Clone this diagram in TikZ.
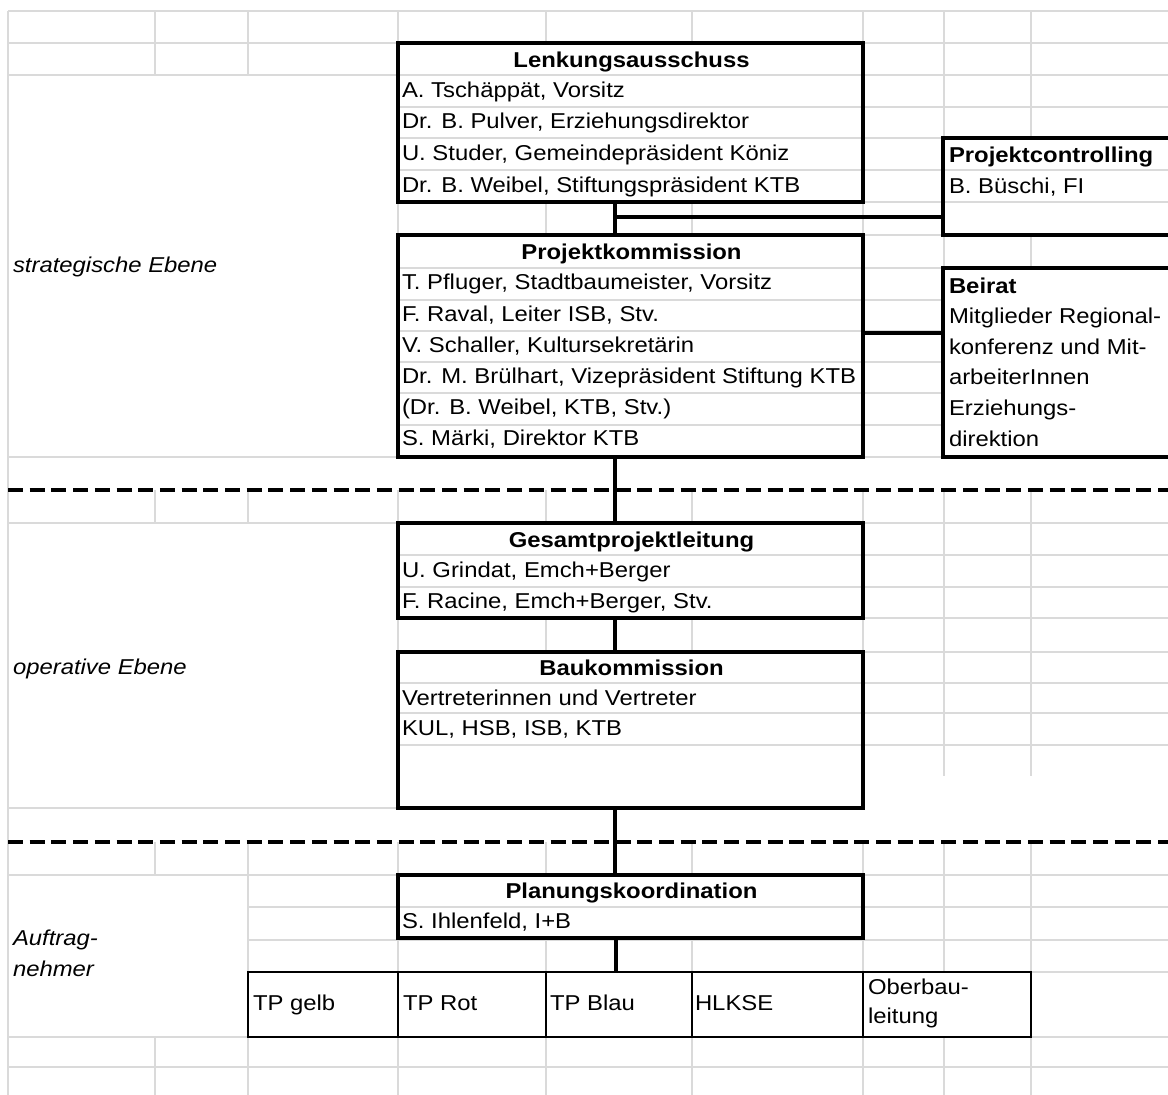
\documentclass[tikz,border=0pt]{standalone}
\usepackage{fontspec}
\setmainfont[FakeStretch=1.11]{Liberation Sans}
\definecolor{gridgray}{RGB}{218,218,218}
\tikzset{
  gline/.style={draw=gridgray, line width=1.6pt},
  obox/.style={draw=black, line width=3.3pt, rectangle, inner sep=0pt, outer sep=0pt},
  tpbox/.style={draw=black, line width=1.8pt, rectangle, inner sep=0pt, outer sep=0pt},
  conn/.style={draw=black, line width=4.5pt},
  dashsep/.style={draw=black, line width=3.3pt, dash pattern=on 15pt off 6.7pt},
  txt/.style={inner sep=0pt, outer sep=0pt, font=\fontsize{21.5}{25}\selectfont, anchor=base west},
  ttl/.style={inner sep=0pt, outer sep=0pt, font=\fontsize{21.5}{25}\selectfont\bfseries, anchor=base},
  btxt/.style={txt, font=\fontsize{21.5}{25}\selectfont\bfseries},
  itxt/.style={txt, font=\fontsize{21.5}{25}\selectfont\itshape}
}
\begin{document}
\begin{tikzpicture}[x=1pt,y=-1pt]
\useasboundingbox[fill=white] (0,0) rectangle (1168,1095);
\clip (0,0) rectangle (1168,1095);

% ---------- spreadsheet grid ----------
% horizontal
\draw[gline] (8,11) -- (1168,11);
\draw[gline] (8,43) -- (398,43) (863,43) -- (1168,43);
\draw[gline] (8,75) -- (1168,75);
\foreach \y in {107,138,170,202,235,268} {\draw[gline] (398,\y) -- (1168,\y);}
\foreach \y in {300,331,362,393,425} {\draw[gline] (398,\y) -- (943,\y);}
\draw[gline] (8,457) -- (1168,457);
\draw[gline] (8,523) -- (1168,523);
\foreach \y in {555,587,618,652,683,713,745} {\draw[gline] (398,\y) -- (1168,\y);}
\draw[gline] (8,808) -- (863,808);
\draw[gline] (8,875) -- (1168,875);
\foreach \y in {907,940,972} {\draw[gline] (248,\y) -- (1168,\y);}
\draw[gline] (8,1037) -- (1168,1037);
\draw[gline] (8,1067) -- (1168,1067);
% vertical
\draw[gline] (8,11) -- (8,1095);
\draw[gline] (155,11) -- (155,75) (155,490) -- (155,523) (155,842) -- (155,875) (155,1037) -- (155,1095);
\draw[gline] (248,11) -- (248,75) (248,490) -- (248,523) (248,842) -- (248,1095);
\draw[gline] (398,11) -- (398,457) (398,490) -- (398,808) (398,842) -- (398,1095);
\foreach \x in {546,692} {
  \draw[gline] (\x,11) -- (\x,43) (\x,202) -- (\x,235) (\x,490) -- (\x,523) (\x,618) -- (\x,652)
    (\x,842) -- (\x,875) (\x,938) -- (\x,972) (\x,1037) -- (\x,1095);
}
\draw[gline] (863,11) -- (863,457) (863,490) -- (863,808) (863,842) -- (863,1095);
\draw[gline] (944,11) -- (944,138) (944,235) -- (944,268) (944,490) -- (944,776) (944,842) -- (944,972) (944,1037) -- (944,1095);
\draw[gline] (1031,11) -- (1031,138) (1031,235) -- (1031,268) (1031,490) -- (1031,776) (1031,842) -- (1031,1095);

% ---------- level separators ----------
\coordinate (d1a) at (8,490);
\coordinate (d1b) at (1168,490);
\coordinate (d2a) at (8,842);
\coordinate (d2b) at (1168,842);
\draw[dashsep] (d1a) -- (d1b);
\draw[dashsep] (d2a) -- (d2b);

% ---------- boxes ----------
\node[obox, minimum width=465pt, minimum height=159pt] (lenk) at (630.5,122.5) {};
\node[obox, minimum width=240pt, minimum height=97pt] (pc) at (1063,186.5) {};
\node[obox, minimum width=465pt, minimum height=222pt] (proj) at (630.5,346) {};
\node[obox, minimum width=240pt, minimum height=189pt] (beirat) at (1063,362.5) {};
\node[obox, minimum width=465pt, minimum height=95pt] (gpl) at (630.5,570.5) {};
\node[obox, minimum width=465pt, minimum height=156pt] (bauk) at (630.5,730) {};
\node[obox, minimum width=465pt, minimum height=63pt] (plan) at (630.5,906.5) {};
\node[tpbox, minimum width=150pt, minimum height=65pt] (gelb) at (323,1004.5) {};
\node[tpbox, minimum width=148pt, minimum height=65pt] (rot) at (472,1004.5) {};
\node[tpbox, minimum width=146pt, minimum height=65pt] (blau) at (619,1004.5) {};
\node[tpbox, minimum width=171pt, minimum height=65pt] (hlkse) at (777.5,1004.5) {};
\node[tpbox, minimum width=168pt, minimum height=65pt] (ober) at (947,1004.5) {};

% ---------- connectors ----------
\coordinate (sp) at (615,0);
\coordinate (sp2) at (616,0);
\coordinate (j1) at (615,217);
\coordinate (j2) at (863,333);
\draw[conn] (lenk.south -| sp) -- (proj.north -| sp);
\draw[conn] (j1) -- (j1 -| pc.west);
\draw[conn] (j2 -| proj.east) -- (j2 -| beirat.west);
\draw[conn] (proj.south -| sp) -- (gpl.north -| sp);
\draw[conn] (gpl.south -| sp) -- (bauk.north -| sp);
\draw[conn] (bauk.south -| sp) -- (plan.north -| sp);
\draw[conn] (plan.south -| sp2) -- (blau.north -| sp2);

% ---------- texts ----------
\node[ttl] (t-lenk) at (631.5,67) {Lenkungsausschuss};
\node[txt] (t-l1) at (402,97) {A. Tschäppät, Vorsitz};
\node[txt] (t-l2) at (402,128) {Dr. B. Pulver, Erziehungsdirektor};
\node[txt] (t-l3) at (402,160) {U. Studer, Gemeindepräsident Köniz};
\node[txt] (t-l4) at (402,192) {Dr. B. Weibel, Stiftungspräsident KTB};

\node[ttl] (t-proj) at (631.5,259) {Projektkommission};
\node[txt] (t-p1) at (402,289) {T. Pfluger, Stadtbaumeister, Vorsitz};
\node[txt] (t-p2) at (402,321) {F. Raval, Leiter ISB, Stv.};
\node[txt] (t-p3) at (402,352) {V. Schaller, Kultursekretärin};
\node[txt] (t-p4) at (402,383) {Dr. M. Brülhart, Vizepräsident Stiftung KTB};
\node[txt] (t-p5) at (402,414) {(Dr. B. Weibel, KTB, Stv.)};
\node[txt] (t-p6) at (402,445) {S. Märki, Direktor KTB};

\node[btxt] (t-pc) at (949,162) {Projektcontrolling};
\node[txt] (t-pc1) at (949,193) {B. Büschi, FI};

\node[btxt] (t-b) at (949,293) {Beirat};
\node[txt] (t-b1) at (949,323.6) {Mitglieder Regional-};
\node[txt] (t-b2) at (949,354.2) {konferenz und Mit-};
\node[txt] (t-b3) at (949,384.8) {arbeiterInnen};
\node[txt] (t-b4) at (949,415.4) {Erziehungs-};
\node[txt] (t-b5) at (949,446) {direktion};

\node[ttl] (t-gpl) at (631.5,547) {Gesamtprojektleitung};
\node[txt] (t-g1) at (402,577) {U. Grindat, Emch+Berger};
\node[txt] (t-g2) at (402,608) {F. Racine, Emch+Berger, Stv.};

\node[ttl] (t-bauk) at (631.5,675) {Baukommission};
\node[txt] (t-k1) at (402,705) {Vertreterinnen und Vertreter};
\node[txt] (t-k2) at (402,735) {KUL, HSB, ISB, KTB};

\node[ttl] (t-plan) at (631.5,898) {Planungskoordination};
\node[txt] (t-pl1) at (402,928) {S. Ihlenfeld, I+B};

\node[txt] (t-gelb) at (253,1010) {TP gelb};
\node[txt] (t-rot) at (403,1010) {TP Rot};
\node[txt] (t-blau) at (550,1010) {TP Blau};
\node[txt] (t-hlkse) at (695,1010) {HLKSE};
\node[txt] (t-ober1) at (868,994) {Oberbau-};
\node[txt] (t-ober2) at (868,1023) {leitung};

\node[itxt] (t-strat) at (13,272) {strategische Ebene};
\node[itxt] (t-oper) at (13,674) {operative Ebene};
\node[itxt] (t-auf1) at (13,945) {Auftrag-};
\node[itxt] (t-auf2) at (13,976) {nehmer};
\end{tikzpicture}
\end{document}
